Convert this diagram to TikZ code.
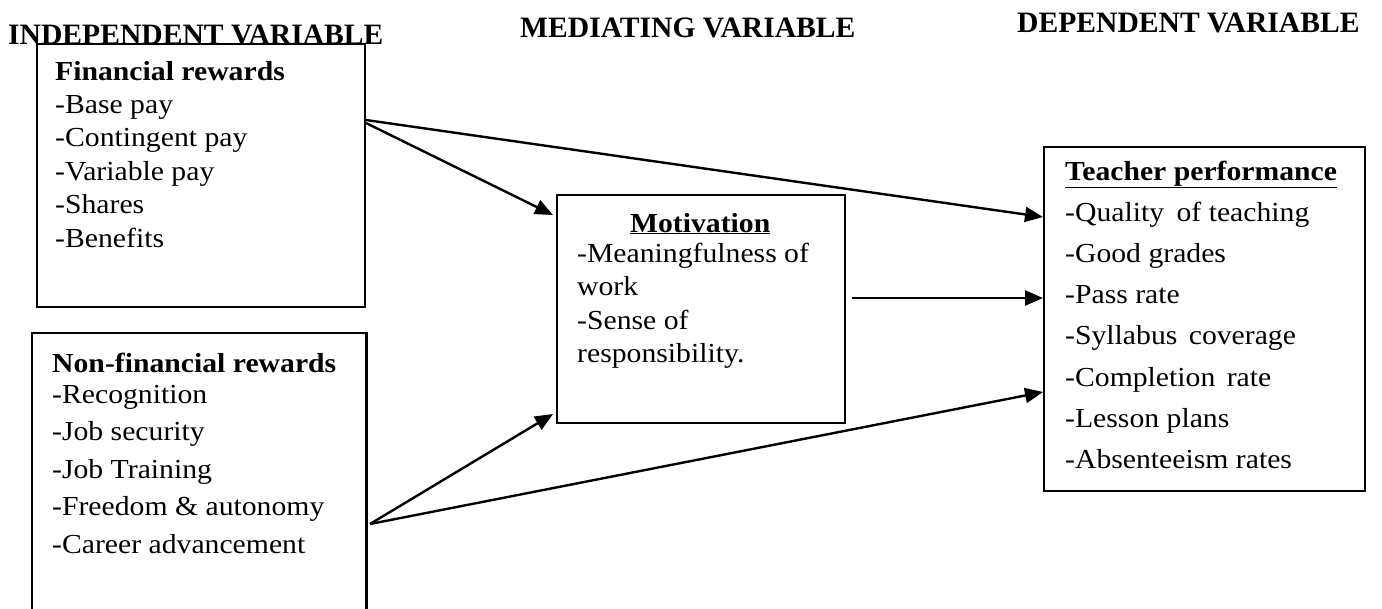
\documentclass[tikz,border=0pt]{standalone}
\usepackage{fontspec}
\setmainfont{Liberation Serif}
\newfontfamily\bodyfont{Liberation Serif}[FakeStretch=1.08]
\usetikzlibrary{arrows.meta}
\begin{document}
\begin{tikzpicture}[x=1pt,y=-1pt,
  box/.style={draw, line width=2.4pt, rectangle, inner sep=0pt, anchor=north west},
  hdr/.style={anchor=base west, inner sep=0pt, font=\fontsize{29.6}{34}\selectfont\bfseries},
  txt/.style={anchor=base west, inner sep=0pt},
  link/.style={line width=2.4pt, -{Triangle[length=18pt,width=15pt]}}]
\fill[white] (0,0) rectangle (1382,608);
\useasboundingbox (0,0) rectangle (1382,608);

% headers
\node[hdr] (hind) at (8,44) {INDEPENDENT VARIABLE};
\node[hdr] (hmed) at (520,37) {MEDIATING VARIABLE};
\node[hdr] (hdep) at (1017,32) {DEPENDENT VARIABLE};

% boxes
\node[box, minimum width=328pt, minimum height=263pt] (fin) at (36,43) {};
\node[box, draw=none, minimum width=332pt, minimum height=276pt] (nf) at (32,333) {};
\draw[line width=2.4pt] (nf.south west) -- (nf.north west) -- (nf.north east) -- (nf.south east);
\node[box, minimum width=288pt, minimum height=228pt] (mot) at (556,194) {};
\node[box, minimum width=321pt, minimum height=344pt] (teach) at (1043,146) {};

% texts
\node[txt] (fintxt) at (55,80) {\parbox[t]{300pt}{\bodyfont\fontsize{27.5}{33.4}\selectfont\raggedright
  \textbf{Financial rewards}\\ -Base pay\\ -Contingent pay\\ -Variable pay\\ -Shares\\ -Benefits}};
\node[txt] (nftxt) at (52,372) {\parbox[t]{305pt}{\bodyfont\fontsize{27.5}{37.5}\selectfont\raggedright
  \textbf{Non-financial rewards}\\[-6.5pt] -Recognition\\ -Job security\\ -Job Training\\ -Freedom \& autonomy\\ -Career advancement}};
\node[txt] (mottxt) at (577,232) {\parbox[t]{262pt}{\bodyfont\fontsize{27.5}{33.5}\selectfont\raggedright
  \makebox[246pt][c]{\underline{\textbf{Motivation}}}\\[-3.5pt] -Meaningfulness of\\ work\\ -Sense of\\ responsibility.}};
\node[txt] (teachtxt) at (1065,180) {\parbox[t]{295pt}{\bodyfont\fontsize{27.5}{41.2}\selectfont\raggedright
  \underline{\textbf{Teacher performance}}\\ -Quality\hspace{5pt} of teaching\\ -Good grades\\ -Pass rate\\ -Syllabus\hspace{4pt} coverage\\ -Completion\hspace{4pt} rate\\ -Lesson plans\\ -Absenteeism rates}};

% connector ends
\coordinate (fa) at (366,120);
\coordinate (fb) at (366,123);
\coordinate (mi1) at (553,215);
\coordinate (ti1) at (1043,217);
\coordinate (mo) at (852,298);
\coordinate (ti2) at (1043,298);
\coordinate (na) at (370,524);
\coordinate (mi2) at (553,414);
\coordinate (ti3) at (1043,392);

\draw[link] (fa) -- (ti1);
\draw[link] (fb) -- (mi1);
\draw[link] (mo) -- (ti2);
\draw[link] (na) -- (mi2);
\draw[link] (na) -- (ti3);
\end{tikzpicture}
\end{document}
